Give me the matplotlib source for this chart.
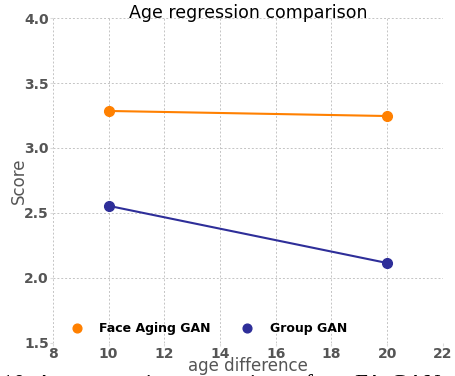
import matplotlib
matplotlib.use("Agg")
import matplotlib.pyplot as plt

age_diff = [10, 20]
face_aging_gan = [3.285, 3.246]
group_gan = [2.555, 2.115]
xticks = [8, 10, 12, 14, 16, 18, 20, 22]
yticks = [1.5, 2.0, 2.5, 3.0, 3.5, 4.0]

fig = plt.figure(figsize=(4.56, 3.76), dpi=100)
ax = fig.add_axes([0.116, 0.088, 0.855, 0.864])

ax.plot(age_diff, face_aging_gan, color="#ff8000", lw=1.5, marker="o", ms=7, label="Face Aging GAN")
ax.plot(age_diff, group_gan, color="#2e2e99", lw=1.5, marker="o", ms=7, label="Group GAN")

ax.set_xlim(8, 22)
ax.set_ylim(1.5, 4.0)
ax.set_xticks(xticks)
ax.set_yticks(yticks)
ax.set_xticklabels([str(t) for t in xticks], fontweight="bold", color="#555555", fontsize=10)
ax.set_yticklabels([f"{t:.1f}" for t in yticks], fontweight="bold", color="#555555", fontsize=10)
ax.tick_params(length=2, color="#dddddd", pad=1)
ax.grid(True, linestyle=(0, (2, 2)), color="#c4c4c4", lw=0.7)
for s in ax.spines.values():
    s.set_visible(False)

ax.set_xlabel("age difference", color="#555555", fontsize=12, labelpad=-3)
ax.set_ylabel("Score", color="#555555", fontsize=12, labelpad=-3)
ax.set_title("Age regression comparison", fontsize=12.5, y=1.0, pad=0)

leg = ax.legend(loc="lower center", ncol=2, frameon=False, handlelength=1, handletextpad=1.3,
                columnspacing=2.4, markerscale=0.9,
                prop={"weight": "bold", "size": 9}, bbox_to_anchor=(0.4, -0.01))
for h in leg.legend_handles:
    h.set_linestyle("none")

# caption of the paper, cut off at the bottom
fig.text(0.004, 1 - 390 / 376, "10: Age regression comparison of our FA-GAN",
         family="Liberation Serif", fontsize=16.6, va="baseline", ha="left")

fig.savefig("out.png", dpi=100)
